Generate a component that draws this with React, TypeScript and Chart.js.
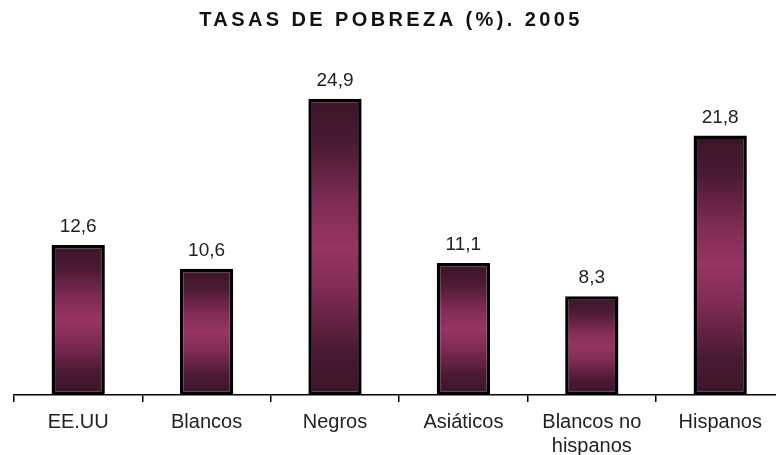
import React, { useEffect, useRef } from "react";
import { Chart, registerables } from "chart.js";

Chart.register(...registerables);

const TITLE = "TASAS DE POBREZA (%). 2005";
const categories: (string | string[])[] = [
  "EE.UU",
  "Blancos",
  "Negros",
  "Asiáticos",
  ["Blancos no", "hispanos"],
  "Hispanos",
];
const povertyRates = [12.6, 10.6, 24.9, 11.1, 8.3, 21.8];
const valueLabels = ["12,6", "10,6", "24,9", "11,1", "8,3", "21,8"];

const FONT = "'Liberation Sans', Arial, sans-serif";

const titlePlugin = {
  id: "customTitle",
  afterDraw(chart: any) {
    const ctx = chart.ctx;
    ctx.save();
    ctx.font = `bold 20px ${FONT}`;
    (ctx as any).letterSpacing = "3.4px";
    ctx.fillStyle = "#111";
    ctx.textAlign = "center";
    ctx.textBaseline = "middle";
    ctx.fillText(TITLE, 391, 20);
    ctx.restore();
  },
};

const valueLabelPlugin = {
  id: "valueLabels",
  afterDatasetsDraw(chart: any) {
    const ctx = chart.ctx;
    const meta = chart.getDatasetMeta(0);
    ctx.save();
    ctx.font = `19px ${FONT}`;
    ctx.fillStyle = "#222";
    ctx.textAlign = "center";
    ctx.textBaseline = "alphabetic";
    meta.data.forEach((bar: any, i: number) => {
      ctx.fillText(valueLabels[i], bar.x, bar.y - 13);
    });
    ctx.restore();
  },
};

export default function App() {
  const ref = useRef<HTMLCanvasElement>(null);
  useEffect(() => {
    if (!ref.current) return;
    const chart = new Chart(ref.current, {
      type: "bar",
      data: {
        labels: categories,
        datasets: [
          {
            data: povertyRates,
            backgroundColor: (c: any) => {
              const ch = c.chart;
              const ys = ch.scales?.y;
              if (!ys || c.parsed == null) return "#963462";
              const top = ys.getPixelForValue(c.parsed.y);
              const bottom = ys.getPixelForValue(0);
              if (!isFinite(top) || !isFinite(bottom) || top === bottom) return "#963462";
              const g = ch.ctx.createLinearGradient(0, top, 0, bottom);
              g.addColorStop(0, "#3b1527");
              g.addColorStop(0.15, "#4a1a33");
              g.addColorStop(0.35, "#7f2b55");
              g.addColorStop(0.5, "#973464");
              g.addColorStop(0.65, "#7f2b55");
              g.addColorStop(0.85, "#4a1a33");
              g.addColorStop(1, "#3b1527");
              return g;
            },
            borderColor: "#000",
            borderWidth: 3.5,
            borderSkipped: false,
            categoryPercentage: 1,
            barPercentage: 0.415,
          },
        ],
      },
      options: {
        responsive: false,
        animation: false,
        layout: { padding: { left: 14, right: 15.6, top: 38, bottom: 0 } },
        plugins: {
          legend: { display: false },
          title: { display: false },
          tooltip: { enabled: false },
        },
        scales: {
          x: {
            afterFit(scale: any) {
              scale.height = 60;
            },
            border: { display: true, color: "#000", width: 1.5 },
            grid: {
              display: true,
              offset: true,
              drawOnChartArea: false,
              drawTicks: true,
              tickLength: 7,
              color: "#000",
              lineWidth: 1.5,
            },
            ticks: {
              color: "#222",
              font: { family: FONT, size: 20, lineHeight: 1.2 },
              padding: 8,
              maxRotation: 0,
              autoSkip: false,
            },
          },
          y: {
            display: false,
            min: 0,
            max: 30,
          },
        },
      },
      plugins: [titlePlugin, valueLabelPlugin],
    });
    return () => chart.destroy();
  }, []);

  return (
    <div
      style={{
        position: "fixed",
        left: 0,
        top: 0,
        width: 776,
        height: 455,
        overflow: "hidden",
        background: "#fff",
      }}
    >
      <canvas ref={ref} width={800} height={455} style={{ display: "block" }} />
    </div>
  );
}
